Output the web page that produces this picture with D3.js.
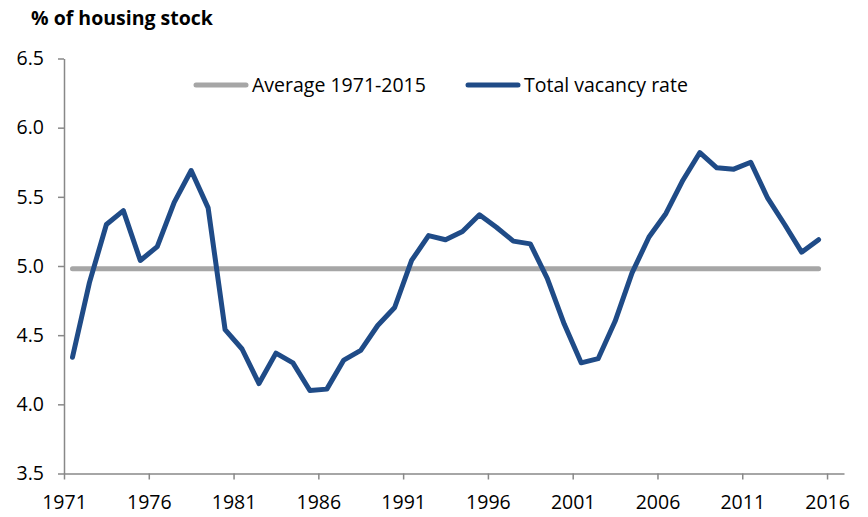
<!DOCTYPE html>
<html lang="en">
<head>
  <meta charset="UTF-8">
  <title>Vacancy rate</title>
  <script src="https://d3js.org/d3.v7.min.js"></script>
  <style>
    html, body {
      margin: 0;
      padding: 0;
      background: #fff;
    }
    svg text {
      font-family: "Open Sans", "Noto Sans", sans-serif;
      fill: #000;
    }
    .axis path, .axis line {
      stroke: #888;
      stroke-width: 1.5;
    }
    .axis text {
      font-size: 19.5px;
    }
    .line-avg, .line-vac {
      fill: none;
      stroke-width: 5;
      stroke-linejoin: round;
      stroke-linecap: round;
    }
    .line-avg { stroke: #a6a6a6; }
    .line-vac { stroke: #1f4b87; }
  </style>
</head>
<body>
  <div id="container"></div>
  <script>
    const width = 868;
    const height = 517;

    const years = d3.range(1971, 2016);
    const vacancy = [4.34, 4.88, 5.30, 5.40, 5.04, 5.14, 5.46, 5.69, 5.42, 4.54,
                     4.40, 4.15, 4.37, 4.30, 4.10, 4.11, 4.32, 4.39, 4.57, 4.70,
                     5.04, 5.22, 5.19, 5.25, 5.37, 5.28, 5.18, 5.16, 4.91, 4.58,
                     4.30, 4.33, 4.60, 4.95, 5.21, 5.38, 5.62, 5.82, 5.71, 5.70,
                     5.75, 5.49, 5.30, 5.10, 5.19];
    const average = 4.98;
    const xTicks = [1971, 1976, 1981, 1986, 1991, 1996, 2001, 2006, 2011, 2016];
    const yTicks = [3.5, 4.0, 4.5, 5.0, 5.5, 6.0, 6.5];

    const svg = d3.select('#container').append('svg')
      .attr('width', width).attr('height', height);

    // scales
    const x = d3.scaleLinear().domain([1971, 2017]).range([64, 844]);
    const y = d3.scaleLinear().domain([3.5, 6.5]).range([473.5, 58.5]);

    // axes
    svg.append('g').attr('class', 'axis')
      .attr('transform', `translate(0,${y(3.5)})`)
      .call(d3.axisBottom(x).tickValues(xTicks).tickFormat(d3.format('d'))
        .tickSize(6).tickSizeOuter(0).tickPadding(16));

    svg.append('g').attr('class', 'axis')
      .attr('transform', `translate(${x(1971)},0)`)
      .call(d3.axisLeft(y).tickValues(yTicks).tickFormat(d3.format('.1f'))
        .tickSize(6).tickSizeOuter(0).tickPadding(14));

    // lines (annual values plotted mid-year)
    const line = d3.line()
      .x(d => x(d[0] + 0.5))
      .y(d => y(d[1]));

    const avgData = [[years[0], average], [years[years.length - 1], average]];
    svg.append('path').datum(avgData).attr('class', 'line-avg').attr('d', line);

    svg.append('path').datum(years.map((yr, i) => [yr, vacancy[i]]))
      .attr('class', 'line-vac').attr('d', line);

    // title
    svg.append('text').attr('x', 31).attr('y', 25)
      .style('font-size', '19.5px').style('font-weight', 'bold')
      .text('% of housing stock');

    // legend
    const legend = [
      {label: 'Average 1971-2015', cls: 'line-avg', x: 196},
      {label: 'Total vacancy rate', cls: 'line-vac', x: 468}
    ];
    const lg = svg.append('g').selectAll('g').data(legend).join('g')
      .attr('transform', d => `translate(${d.x},85)`);
    lg.append('line').attr('class', d => d.cls)
      .attr('x1', 0).attr('x2', 50).attr('y1', 0).attr('y2', 0);
    lg.append('text').attr('x', 56).attr('y', 7)
      .style('font-size', '19.5px')
      .text(d => d.label);
  </script>
</body>
</html>
